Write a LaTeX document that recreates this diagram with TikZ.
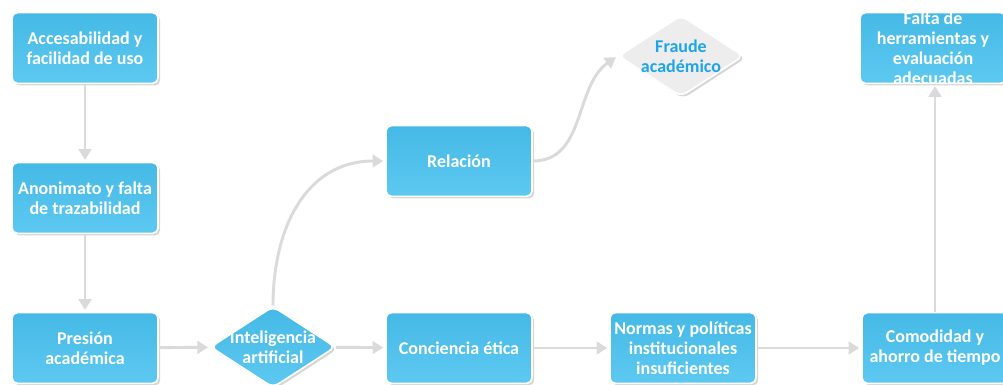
\documentclass[tikz,border=0pt]{standalone}
\usepackage{fontspec}
\setmainfont{Carlito}
\usetikzlibrary{arrows.meta,shapes.geometric,shadows}

\definecolor{boxtop}{HTML}{45B9E6}
\definecolor{boxbot}{HTML}{5DC9F1}
\definecolor{linegray}{HTML}{DADADA}
\definecolor{fraudfill}{HTML}{EDEDED}
\definecolor{fraudtext}{HTML}{1DA5E8}

\tikzset{
  dshadow/.style={drop shadow={shadow xshift=1.6pt,shadow yshift=-1.6pt,fill=black!18,opacity=.9}},
  box/.style={rectangle, rounded corners=4pt, draw=white, line width=1.2pt,
    top color=boxtop, bottom color=boxbot, dshadow,
    minimum width=109.5pt, minimum height=53pt, inner sep=0pt,
    align=center, text=white, font=\bfseries\fontsize{13.5}{15}\selectfont},
  boxtext/.style={align=center, text=white, inner sep=0pt, font=\bfseries\fontsize{13.5}{15}\selectfont},
  dia/.style={diamond, rounded corners=5pt, draw=white, line width=1.2pt,
    minimum width=94pt, minimum height=61pt, inner sep=0pt, dshadow},
  arr/.style={draw=linegray, line width=2.2pt, shorten >=1.5pt,
    -{Triangle[length=8pt,width=9.5pt]}}
}

\begin{document}
\begin{tikzpicture}[x=0.75pt,y=0.75pt]
  \useasboundingbox (0,0) rectangle (1003,385);

  % left column
  \node[box] (acc) at (85,337) {Accesabilidad y\\facilidad de uso};
  \node[box] (ano) at (85,187) {Anonimato y falta\\de trazabilidad};
  \node[box] (pre) at (85,37) {Presión\\académica};

  % middle
  \node[dia, top color=boxtop, bottom color=boxbot] (ia) at (273,38) {};
  \node[boxtext] (iatxt) at (ia) {Inteligencia\\artificial};
  \node[box] (rel) at (459,224) {Relación};
  \node[box] (con) at (459,37) {Conciencia ética};
  \node[dia, fill=fraudfill] (fra) at (681,329) {};
  \node[boxtext, text=fraudtext] (fratxt) at (fra) {Fraude\\académico};

  % right
  \node[box] (nor) at (683,37) {Normas y políticas\\institucionales\\insuficientes};
  \node[box] (com) at (935,37) {Comodidad y\\ahorro de tiempo};
  \node[box] (fal) at (933,337) {};
  \node[boxtext] (faltxt) at (fal) {Falta de\\herramientas y\\evaluación\\adecuadas};

  % connectors
  \draw[arr] (acc) -- (ano);
  \draw[arr] (ano) -- (pre);
  \draw[arr] (pre) -- (ia);
  \draw[arr] (ia) -- (con);
  \draw[arr] (con) -- (nor);
  \draw[arr] (nor) -- (com);
  \draw[arr] (com.north) -- (com.north |- fal.south);
  \draw[arr] (ia.north) to[out=90,in=180,looseness=1.1] (rel.west);
  \draw[arr] (rel.east) to[out=0,in=215,looseness=1] (fra.west);
\end{tikzpicture}
\end{document}
